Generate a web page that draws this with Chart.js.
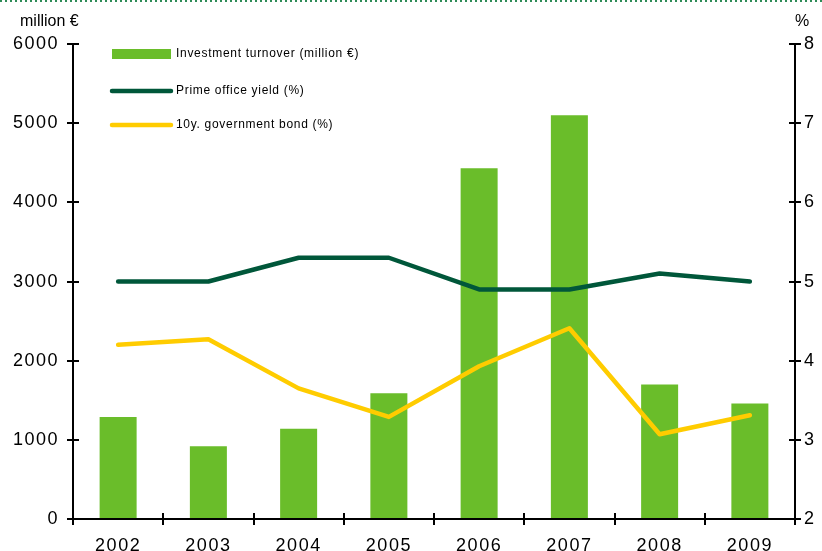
<!DOCTYPE html>
<html>
<head>
<meta charset="utf-8">
<script src="https://cdn.jsdelivr.net/npm/chart.js@4/dist/chart.umd.min.js"></script>
<style>
  html, body { margin: 0; padding: 0; background: #fff; }
  #wrap { width: 822px; height: 551px; }
</style>
</head>
<body>
<div id="wrap"><canvas id="myChart" width="822" height="551"></canvas></div>
<script>
// years and series
const years = ['2002', '2003', '2004', '2005', '2006', '2007', '2008', '2009'];
const turnover = [1290, 920, 1140, 1590, 4430, 5100, 1700, 1460];
const primeYield = [5.0, 5.0, 5.3, 5.3, 4.9, 4.9, 5.1, 5.0];
const govBond = [4.2, 4.27, 3.65, 3.29, 3.93, 4.41, 3.07, 3.31];

// axis ticks
const leftTicks = [0, 1000, 2000, 3000, 4000, 5000, 6000];
const rightTicks = [2, 3, 4, 5, 6, 7, 8];

const BAR_GREEN = '#6abd2a';
const DARK_GREEN = '#00573a';
const YELLOW = '#ffcc00';
const FONT = '"Liberation Sans", Arial, sans-serif';

// hand-drawn axes: crossing tick marks, labels and units
const axesPlugin = {
  id: 'axes',
  beforeDraw(chart) {
    const ctx = chart.ctx;
    ctx.save();
    ctx.strokeStyle = '#2e8b57';
    ctx.lineWidth = 2;
    ctx.setLineDash([2, 3]);
    ctx.beginPath();
    ctx.moveTo(0, 1);
    ctx.lineTo(chart.width, 1);
    ctx.stroke();
    ctx.restore();
  },
  afterDraw(chart) {
    const ctx = chart.ctx;
    const area = chart.chartArea;
    const x = chart.scales.x;
    const y = chart.scales.y;
    const y2 = chart.scales.y2;
    ctx.save();
    ctx.strokeStyle = '#000';
    ctx.fillStyle = '#000';
    ctx.lineWidth = 2;

    // axis lines
    ctx.beginPath();
    ctx.moveTo(area.left, area.top);
    ctx.lineTo(area.left, area.bottom);
    ctx.lineTo(area.right, area.bottom);
    ctx.lineTo(area.right, area.top);
    ctx.stroke();

    ctx.font = '18px ' + FONT;
    ctx.letterSpacing = '1.5px';
    ctx.textBaseline = 'middle';

    // left axis
    ctx.textAlign = 'right';
    leftTicks.forEach((v) => {
      const py = Math.round(y.getPixelForValue(v));
      ctx.beginPath();
      ctx.moveTo(area.left - 6, py);
      ctx.lineTo(area.left + 6, py);
      ctx.stroke();
      ctx.fillText(String(v), area.left - 14, py);
    });

    // right axis
    ctx.textAlign = 'left';
    rightTicks.forEach((v) => {
      const py = Math.round(y2.getPixelForValue(v));
      ctx.beginPath();
      ctx.moveTo(area.right - 6, py);
      ctx.lineTo(area.right + 6, py);
      ctx.stroke();
      ctx.fillText(String(v), area.right + 9, py);
    });

    // category boundaries and year labels
    const step = (area.right - area.left) / years.length;
    for (let i = 0; i <= years.length; i++) {
      const px = Math.round(area.left + i * step);
      ctx.beginPath();
      ctx.moveTo(px, area.bottom - 6);
      ctx.lineTo(px, area.bottom + 6);
      ctx.stroke();
    }
    ctx.textAlign = 'center';
    years.forEach((yr, i) => {
      ctx.fillText(yr, x.getPixelForValue(i), area.bottom + 27);
    });

    // units
    ctx.font = '16px ' + FONT;
    ctx.letterSpacing = '0px';
    ctx.textAlign = 'left';
    ctx.fillText('million €', 20, 22);
    ctx.fillText('%', area.right, 22);

    // legend
    ctx.font = '12px ' + FONT;
    ctx.letterSpacing = '0.7px';
    const rows = [54, 91, 125];
    chart.data.datasets.forEach((ds, i) => {
      const ly = rows[i];
      if (ds.type === 'bar') {
        ctx.fillStyle = ds.backgroundColor;
        ctx.fillRect(112, ly - 5, 59, 10);
      } else {
        ctx.strokeStyle = ds.borderColor;
        ctx.lineWidth = 4.5;
        ctx.lineCap = 'round';
        ctx.beginPath();
        ctx.moveTo(112, ly);
        ctx.lineTo(171, ly);
        ctx.stroke();
      }
      ctx.fillStyle = '#000';
      ctx.fillText(ds.label, 176, ly);
    });
    ctx.restore();
  },
};

const ctx = document.getElementById('myChart').getContext('2d');
const myChart = new Chart(ctx, {
  data: {
    labels: years,
    datasets: [
      {
        type: 'bar',
        label: 'Investment turnover (million €)',
        data: turnover,
        backgroundColor: BAR_GREEN,
        borderWidth: 0,
        barPercentage: 0.41,
        categoryPercentage: 1,
        yAxisID: 'y',
        order: 2,
      },
      {
        type: 'line',
        label: 'Prime office yield (%)',
        data: primeYield,
        borderColor: DARK_GREEN,
        borderWidth: 4.5,
        borderCapStyle: 'round',
        borderJoinStyle: 'round',
        pointRadius: 0,
        tension: 0,
        yAxisID: 'y2',
        order: 1,
      },
      {
        type: 'line',
        label: '10y. government bond (%)',
        data: govBond,
        borderColor: YELLOW,
        borderWidth: 4.5,
        borderCapStyle: 'round',
        borderJoinStyle: 'round',
        pointRadius: 0,
        tension: 0,
        yAxisID: 'y2',
        order: 0,
      },
    ],
  },
  options: {
    responsive: false,
    animation: false,
    layout: {
      padding: { left: 73, right: 27, top: 44, bottom: 32 },
    },
    plugins: {
      legend: { display: false },
      tooltip: { enabled: false },
    },
    scales: {
      x: { display: false, offset: true },
      y: { display: false, min: 0, max: 6000 },
      y2: { display: false, min: 2, max: 8, position: 'right' },
    },
  },
  plugins: [axesPlugin],
});
</script>
</body>
</html>
